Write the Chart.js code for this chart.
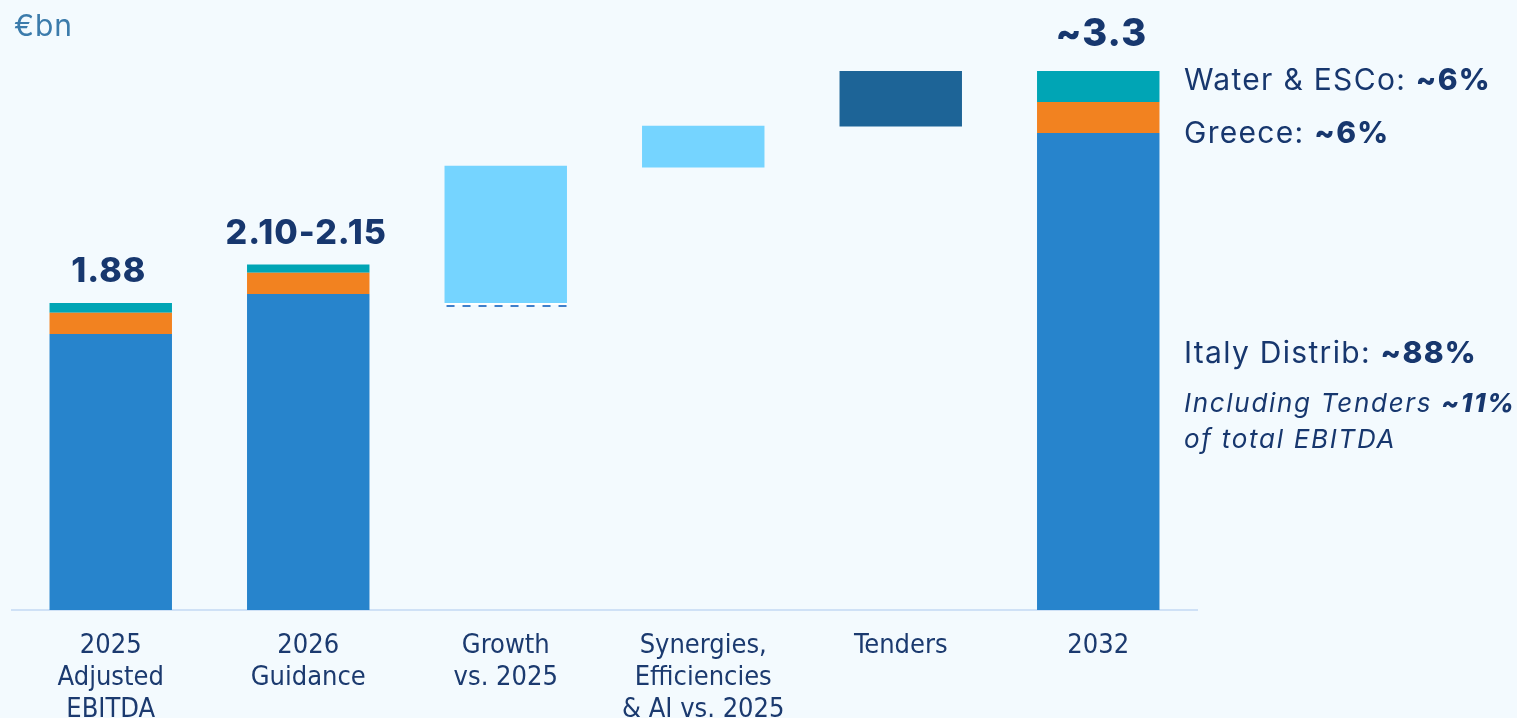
<!DOCTYPE html>
<html>
<head>
<meta charset="utf-8">
<script src="https://cdn.jsdelivr.net/npm/chart.js@4.4.1/dist/chart.umd.min.js"></script>
<style>
  html, body { margin: 0; padding: 0; background: #f3fafe; overflow: hidden; }
  #wrap { width: 1517px; height: 718px; }
</style>
</head>
<body>
<div id="wrap"><canvas id="myChart" width="1517" height="718"></canvas></div>
<script>
// values in €bn
var categories = [
  ["2025", "Adjusted", "EBITDA"],
  ["2026", "Guidance"],
  ["Growth", "vs. 2025"],
  ["Synergies,", "Efficiencies", "& AI vs. 2025"],
  ["Tenders"],
  ["2032"]
];
var italyDistrib = [1.69, 1.935, null, null, null, 2.92];
var greece = [0.13, 0.13, null, null, null, 0.19];
var waterEsco = [0.06, 0.05, null, null, null, 0.19];
var bridgeStart = [null, null, 1.88, 2.71, 2.96, null];
var bridgeEnd = [null, null, 2.72, 2.965, 3.3, null];
var bridgeColors = ["#75d4ff", "#75d4ff", "#75d4ff", "#75d4ff", "#1d6497", "#75d4ff"];
var totalLabels = ["1.88", "2.10-2.15", "", "", "", "~3.3"];

var navy = "#17376e";
var labelFont = "'Liberation Sans Narrow', 'DejaVu Sans Condensed', 'Roboto', sans-serif";
var textFont = "Inter, 'Open Sans', sans-serif";

var bridges = bridgeStart.map(function (s, i) {
  return s == null ? null : [s, bridgeEnd[i]];
});

function drawParts(ctx, x, y, parts) {
  for (var i = 0; i < parts.length; i++) {
    ctx.font = parts[i][1];
    ctx.fillText(parts[i][0], x, y);
    x += ctx.measureText(parts[i][0]).width;
  }
}

var overlay = {
  id: "overlay",
  afterDatasetsDraw: function (chart) {
    var ctx = chart.ctx;
    var xs = chart.scales.x, ys = chart.scales.y;
    ctx.save();

    // dashed base under the growth step
    var gb = chart.getDatasetMeta(3).data[2];
    var py = Math.round(ys.getPixelForValue(bridgeStart[2]));
    ctx.strokeStyle = "#ffffff";
    ctx.lineWidth = 2;
    ctx.beginPath();
    ctx.moveTo(gb.x - gb.width / 2, py + 1);
    ctx.lineTo(gb.x + gb.width / 2, py + 1);
    ctx.stroke();
    ctx.strokeStyle = "#3f7fca";
    ctx.setLineDash([8, 8]);
    ctx.beginPath();
    ctx.moveTo(gb.x - gb.width / 2 + 2, py + 3);
    ctx.lineTo(gb.x + gb.width / 2, py + 3);
    ctx.stroke();
    ctx.setLineDash([]);

    // totals above stacked bars
    ctx.fillStyle = navy;
    ctx.textAlign = "center";
    ctx.textBaseline = "middle";
    for (var i = 0; i < totalLabels.length; i++) {
      if (!totalLabels[i]) continue;
      var tot = (italyDistrib[i] || 0) + (greece[i] || 0) + (waterEsco[i] || 0);
      var big = i === 5;
      ctx.letterSpacing = "1px";
      ctx.font = "800 " + (big ? 38 : 34) + "px " + textFont;
      ctx.fillText(totalLabels[i], xs.getPixelForValue(i) + (big ? 3 : -2), ys.getPixelForValue(tot) - (big ? 36 : 31));
    }

    // unit
    ctx.textAlign = "left";
    ctx.fillStyle = "#3b7bab";
    ctx.letterSpacing = "1px";
    ctx.font = "400 30px " + textFont;
    ctx.fillText("€bn", 14, 27);

    // breakdown notes for 2032
    ctx.fillStyle = navy;
    var nx = 1184;
    var reg = "400 30px " + textFont, bold = "800 30px " + textFont;
    ctx.letterSpacing = "1.3px";
    drawParts(ctx, nx, 81, [["Water & ESCo: ", reg], ["~6%", bold]]);
    drawParts(ctx, nx, 134, [["Greece: ", reg], ["~6%", bold]]);
    drawParts(ctx, nx, 354, [["Italy Distrib: ", reg], ["~88%", bold]]);
    var it = "italic 400 26px " + textFont, itb = "italic 800 26px " + textFont;
    ctx.letterSpacing = "1.7px";
    drawParts(ctx, nx, 404, [["Including Tenders ", it], ["~11%", itb]]);
    drawParts(ctx, nx, 440, [["of total EBITDA", it]]);
    ctx.restore();
  }
};

new Chart(document.getElementById("myChart"), {
  type: "bar",
  data: {
    labels: categories,
    datasets: [
      { label: "Italy Distrib", data: italyDistrib, backgroundColor: "#2784cc" },
      { label: "Greece", data: greece, backgroundColor: "#f28220" },
      { label: "Water & ESCo", data: waterEsco, backgroundColor: "#00a5b5" },
      { label: "Bridge", data: bridges, backgroundColor: bridgeColors }
    ]
  },
  options: {
    responsive: false,
    animation: false,
    devicePixelRatio: 1,
    barPercentage: 0.62,
    categoryPercentage: 1,
    layout: { padding: { left: 12, right: 320, top: 0, bottom: 0 } },
    plugins: { legend: { display: false }, tooltip: { enabled: false } },
    scales: {
      x: {
        stacked: true,
        grid: { display: false, drawTicks: false },
        border: { color: "#cfe1f6", width: 2 },
        ticks: {
          color: "#1b3a6f",
          padding: 20,
          font: { family: labelFont, size: 27, lineHeight: 1.19 }
        },
        afterFit: function (s) { s.height = 108; }
      },
      y: {
        stacked: true,
        display: false,
        min: 0,
        max: 3.735
      }
    }
  },
  plugins: [overlay]
});
</script>
</body>
</html>
